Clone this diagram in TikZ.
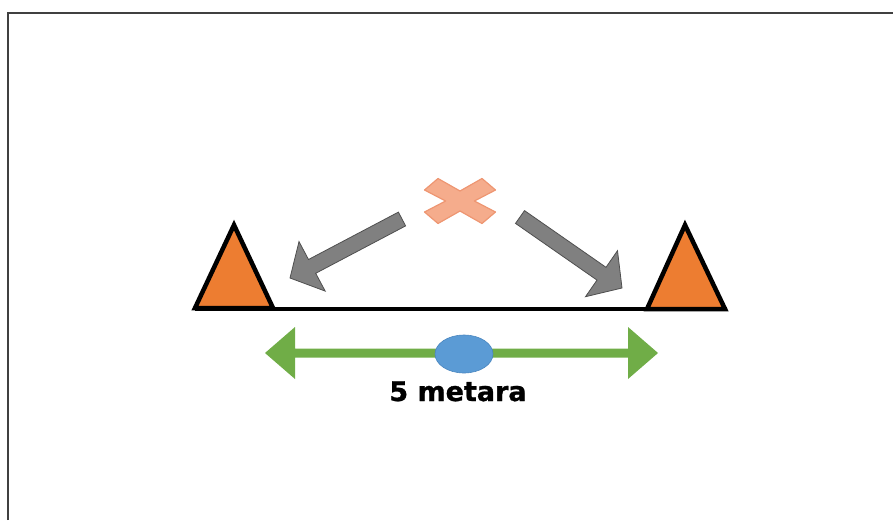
\documentclass[tikz,border=0pt]{standalone}
\usepackage{fontspec}
\usetikzlibrary{shapes.geometric}
\newfontfamily\labelfont[BoldFeatures={FakeBold=1}]{DejaVu Sans}
\definecolor{triorange}{HTML}{ED7D31}
\definecolor{crossfill}{HTML}{F5AC8C}
\definecolor{crossdraw}{HTML}{EE9672}
\definecolor{arrgray}{HTML}{808080}
\definecolor{arrgraydark}{HTML}{4F4F4F}
\definecolor{arrgreen}{HTML}{70AD47}
\definecolor{dotblue}{HTML}{5B9BD5}
\definecolor{dotbluedark}{HTML}{4A86BF}
\tikzset{
  support/.style={fill=triorange, draw=black, line width=4.5pt, line join=miter},
  grayarrow/.style={fill=arrgray, draw=arrgraydark, line width=0.8pt, line join=miter},
  greenarrow/.style={fill=arrgreen, draw=none},
  crossshape/.style={fill=crossfill, draw=crossdraw, line width=1.2pt, line join=round},
  frameline/.style={draw=black!75, line width=1.5pt},
}
\begin{document}
\begin{tikzpicture}[x=1pt,y=-1pt]
\useasboundingbox (0,0) rectangle (893,520);
% frame
\draw[frameline] (8,520) -- (8,13) -- (893,13);
% beam
\coordinate (beamL) at (195,309);
\coordinate (beamR) at (727,309);
\draw[line width=4pt] (beamL) -- (beamR);
% supports
\draw[support] (234,225) -- (273,308) -- (195,308) -- cycle;
\node[inner sep=0pt] (supL) at (234,280) {};
\draw[support] (685,225) -- (725,309) -- (647,309) -- cycle;
\node[inner sep=0pt] (supR) at (685,280) {};
% load cross
\begin{scope}[shift={(460,201)}]
\draw[crossshape]
  (-22,-22.5) -- (0,-10) -- (22,-22.5) -- (35.5,-11) -- (14.4,0) -- (35.5,11)
  -- (22,22.5) -- (0,10) -- (-22,22.5) -- (-35.5,11) -- (-14.4,0) -- (-35.5,-11) -- cycle;
\end{scope}
\node[inner sep=0pt] (load) at (460,201) {};
% gray arrows
\draw[grayarrow] (290,278) -- (325.2,291.1) -- (315.7,273.3) -- (405.6,225.9)
  -- (398.4,212.1) -- (308.5,259.5) -- (299.0,241.6) -- cycle;
\draw[grayarrow] (622,288) -- (617.5,250.7) -- (606.0,267.3) -- (524.5,210.6)
  -- (515.5,223.4) -- (597.0,280.1) -- (585.5,296.7) -- cycle;
% green span arrow
\draw[greenarrow] (265,353) -- (295,327) -- (295,348.5) -- (628,348.5) -- (628,327)
  -- (658,353) -- (628,379) -- (628,357.5) -- (295,357.5) -- (295,379) -- cycle;
% center dot
\node[ellipse, minimum width=58pt, minimum height=38pt, inner sep=0pt,
      fill=dotblue, draw=dotbluedark, line width=0.6pt] (dot) at (464,354) {};
% label
\node[anchor=base, inner sep=0pt, font=\labelfont\bfseries\fontsize{27}{32}\selectfont]
  (lbl) at (458,401) {5 metara};
\end{tikzpicture}
\end{document}
